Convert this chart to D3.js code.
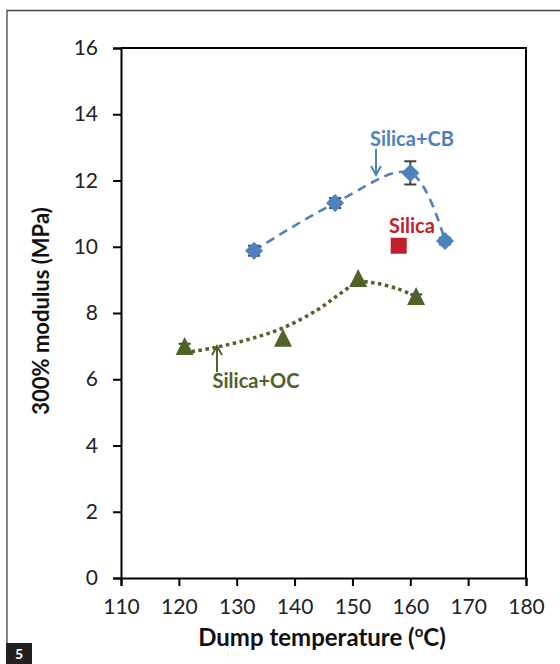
<!DOCTYPE html>
<html>
<head>
<meta charset="utf-8">
<script src="https://cdn.jsdelivr.net/npm/d3@7"></script>
<style>
  body { margin: 0; background: #fff; }
  svg { display: block; font-family: Lato, "Open Sans", sans-serif; }
</style>
</head>
<body>
<svg width="560" height="664"></svg>
<script>
// --- data ---
var xTicks = [110, 120, 130, 140, 150, 160, 170, 180];
var yTicks = [0, 2, 4, 6, 8, 10, 12, 14, 16];

var cbTemp = [133, 147, 160, 166];
var cbMod = [9.88, 11.32, 12.23, 10.17];
var cbErr = [0.15, 0.15, 0.35, 0.1];

var ocTemp = [121, 138, 151, 161];
var ocMod = [6.97, 7.22, 9.03, 8.48];
var ocErr = [0.1, 0, 0, 0.08];

var silTemp = [158];
var silMod = [10.03];

// smoothed trend through the OC group as drawn
var ocTrendT = [121, 126, 132, 138, 144, 148, 151, 154, 158, 161];
var ocTrendY = [6.8, 6.95, 7.2, 7.55, 8.1, 8.6, 8.93, 8.9, 8.72, 8.5];

var svg = d3.select("svg");
var pLeft = 121, pRight = 526, pTop = 48, pBottom = 578;

var x = d3.scaleLinear().domain([110, 180]).range([pLeft, pRight]);
var y = d3.scaleLinear().domain([0, 16]).range([pBottom, pTop]);

// outer page frame
svg.append("path")
  .attr("d", "M7,643V10.5H560")
  .attr("fill", "none")
  .attr("stroke", "#444")
  .attr("stroke-width", 1.3);

svg.append("rect")
  .attr("x", 6).attr("y", 643).attr("width", 26).attr("height", 21)
  .attr("fill", "#231f20");
svg.append("text")
  .attr("x", 19).attr("y", 659)
  .attr("text-anchor", "middle")
  .attr("fill", "#fff")
  .attr("font-weight", "bold")
  .attr("font-size", 14)
  .text("5");

// plot box (top / right)
svg.append("path")
  .attr("d", "M" + pLeft + "," + pTop + "H" + pRight + "V" + pBottom)
  .attr("fill", "none")
  .attr("stroke", "#000")
  .attr("stroke-width", 2);

var yAxis = svg.append("g")
  .attr("transform", "translate(" + pLeft + ",0)")
  .call(d3.axisLeft(y).tickValues(yTicks).tickSize(8).tickPadding(15));
var xAxis = svg.append("g")
  .attr("transform", "translate(0," + pBottom + ")")
  .call(d3.axisBottom(x).tickValues(xTicks).tickSize(8).tickPadding(13));

[yAxis, xAxis].forEach(function(g) {
  g.select(".domain").attr("stroke", "#000").attr("stroke-width", 2);
  g.selectAll(".tick line").attr("stroke", "#000").attr("stroke-width", 2);
  g.selectAll(".tick text")
    .attr("fill", "#222")
    .attr("font-size", 21)
    .attr("font-family", "Lato, sans-serif");
});

// axis titles
svg.append("text")
  .attr("transform", "translate(49,311) rotate(-90)")
  .attr("text-anchor", "middle")
  .attr("font-size", 22)
  .attr("font-weight", "bold")
  .attr("fill", "#111")
  .text("300% modulus (MPa)");

var xt = svg.append("text")
  .attr("x", 322).attr("y", 646)
  .attr("text-anchor", "middle")
  .attr("font-size", 24)
  .attr("font-weight", "bold")
  .attr("fill", "#111");
xt.append("tspan").text("Dump temperature (");
xt.append("tspan").attr("font-size", 15).attr("dy", -9).text("o");
xt.append("tspan").attr("dy", 9).text("C)");

var blue = "#4f81bd", green = "#4f6228", red = "#c0202a";

// trend lines
var line = d3.line()
  .x(function(d) { return x(d[0]); })
  .y(function(d) { return y(d[1]); })
  .curve(d3.curveCatmullRom.alpha(0.5));

svg.append("path")
  .datum(d3.zip(cbTemp, cbMod))
  .attr("d", line)
  .attr("fill", "none")
  .attr("stroke", blue)
  .attr("stroke-width", 2.6)
  .attr("stroke-dasharray", "9,6");

svg.append("path")
  .datum(d3.zip(ocTrendT, ocTrendY))
  .attr("d", line)
  .attr("fill", "none")
  .attr("stroke", green)
  .attr("stroke-width", 3.5)
  .attr("stroke-dasharray", "3.5,3.5");

// error bars
function errBars(ts, vs, es) {
  var g = svg.append("g").attr("stroke", "#404040").attr("stroke-width", 2);
  ts.forEach(function(t, i) {
    if (!es[i]) return;
    var cx = x(t), y1 = y(vs[i] + es[i]), y2 = y(vs[i] - es[i]);
    g.append("line").attr("x1", cx).attr("x2", cx).attr("y1", y1).attr("y2", y2);
    g.append("line").attr("x1", cx - 6).attr("x2", cx + 6).attr("y1", y1).attr("y2", y1);
    g.append("line").attr("x1", cx - 6).attr("x2", cx + 6).attr("y1", y2).attr("y2", y2);
  });
}
errBars(cbTemp, cbMod, cbErr);
errBars(ocTemp, ocMod, ocErr);

// markers
svg.append("g").selectAll("path")
  .data(d3.zip(cbTemp, cbMod))
  .join("path")
  .attr("transform", function(d) { return "translate(" + x(d[0]) + "," + y(d[1]) + ")"; })
  .attr("d", "M0,-9L9,0L0,9L-9,0Z")
  .attr("fill", blue);

svg.append("g").selectAll("path")
  .data(d3.zip(ocTemp, ocMod))
  .join("path")
  .attr("transform", function(d) { return "translate(" + x(d[0]) + "," + y(d[1]) + ")"; })
  .attr("d", "M0,-10L9,8L-9,8Z")
  .attr("fill", green);

svg.append("g").selectAll("rect")
  .data(d3.zip(silTemp, silMod))
  .join("rect")
  .attr("x", function(d) { return x(d[0]) - 8; })
  .attr("y", function(d) { return y(d[1]) - 8; })
  .attr("width", 16).attr("height", 16)
  .attr("fill", red);

// annotations
function arrow(x0, y0, y1, col) {
  var dir = y1 > y0 ? 1 : -1;
  svg.append("line")
    .attr("x1", x0).attr("x2", x0).attr("y1", y0).attr("y2", y1)
    .attr("stroke", col).attr("stroke-width", 2);
  svg.append("path")
    .attr("d", "M" + (x0 - 5) + "," + (y1 - dir * 9) + "L" + x0 + "," + y1 + "L" + (x0 + 5) + "," + (y1 - dir * 9))
    .attr("fill", "none").attr("stroke", col).attr("stroke-width", 2);
}
arrow(376, 149, 175, blue);
arrow(217, 372, 346, green);

function label(t, lx, ly, col) {
  svg.append("text")
    .attr("x", lx).attr("y", ly)
    .attr("text-anchor", "middle")
    .attr("font-size", 20)
    .attr("font-weight", "bold")
    .attr("fill", col)
    .text(t);
}
label("Silica+CB", 412, 146, blue);
label("Silica", 412, 233, red);
label("Silica+OC", 256, 388, green);
</script>
</body>
</html>
